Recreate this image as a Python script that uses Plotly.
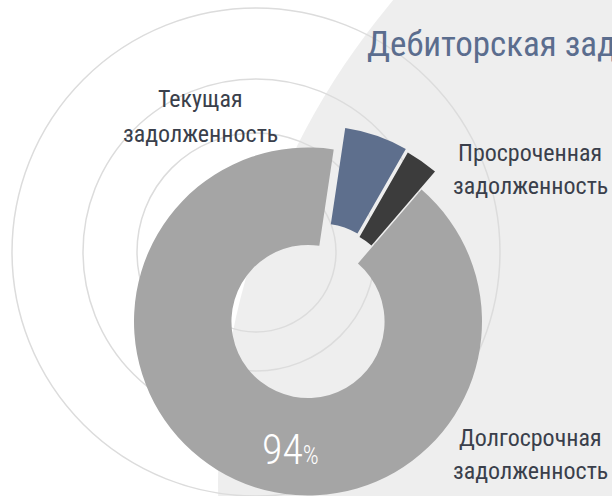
import plotly.graph_objects as go

W, H = 612, 496

# slice data (clockwise from the 12 o'clock gap)
labels = ["Текущая задолженность", "Просроченная задолженность", "Долгосрочная задолженность"]
values = [5.9, 3.05, 91.05]
colors = ["#5e6f8d", "#3c3c3c", "#a5a5a5"]
share_text = "94"
title_text = "Дебиторская задолженность"

label_lines = [
    ("Текущая", "задолженность"),
    ("Просроченная", "задолженность"),
    ("Долгосрочная", "задолженность"),
]

FONT = "Roboto Condensed, DejaVu Sans Condensed, sans-serif"
TEXT_COLOR = "#3a3f4b"
R = 174
CX, CY = 308, 321.5
ROTATION = 8.5
# exploded offset of each slice from the donut centre, px (dx, dy)
EXPLODE = [(11.5, -21.5), (13.5, -18), (0, 0)]


def px_x(x):
    return x / W


def px_y(y):
    return 1 - y / H


def circle(cx, cy, r, **kw):
    return dict(type="circle", xref="paper", yref="paper",
                x0=px_x(cx - r), x1=px_x(cx + r), y0=px_y(cy + r), y1=px_y(cy - r),
                layer="below", **kw)


fig = go.Figure()

# one trace per slice so that each exploded slice keeps the full radius
for i, (dx, dy) in enumerate(EXPLODE):
    cx, cy = CX + dx, CY + dy
    slice_colors = [c if j == i else "rgba(0,0,0,0)" for j, c in enumerate(colors)]
    fig.add_trace(go.Pie(
        labels=labels,
        values=values,
        sort=False,
        direction="clockwise",
        rotation=ROTATION,
        hole=0.44,
        marker=dict(colors=slice_colors, line=dict(width=0)),
        textinfo="none",
        showlegend=False,
        domain=dict(x=[max(0, px_x(cx - R)), min(1, px_x(cx + R))],
                    y=[max(0, px_y(cy + R)), min(1, px_y(cy - R))]),
    ))

# background: large light disc + thin concentric rings
shapes = [circle(963, 480, 745, fillcolor="#eeeeee", line=dict(width=0))]
for r in [80, 119, 173, 244]:
    shapes.append(circle(256, 252, r, line=dict(color="#dcdcdc", width=1.5)))


def text(x, y, s, size, color=TEXT_COLOR, xanchor="center", weight=None):
    font = dict(family=FONT, size=size, color=color)
    if weight:
        font["weight"] = weight
    return dict(x=px_x(x), y=px_y(y), xref="paper", yref="paper", text=s,
                showarrow=False, xanchor=xanchor, yanchor="middle", font=font)


annotations = [text(365, 45, title_text, 35, color="#5b6d8e", xanchor="left")]
label_pos = [(200, 99, 134), (530, 153, 186), (530, 438, 471)]
for (l1, l2), (x, y1, y2) in zip(label_lines, label_pos):
    annotations.append(text(x, y1, l1, 24))
    annotations.append(text(x, y2, l2, 24))
annotations.append(text(290, 449, share_text + "<span style='font-size:25px'>%</span>", 42,
                        color="white", weight=300))

fig.update_layout(
    width=W, height=H,
    margin=dict(l=0, r=0, t=0, b=0),
    paper_bgcolor="white",
    plot_bgcolor="white",
    shapes=shapes,
    annotations=annotations,
)

fig.write_html("out.html", config={"displayModeBar": False},
               post_script="document.body.style.margin='0';")
